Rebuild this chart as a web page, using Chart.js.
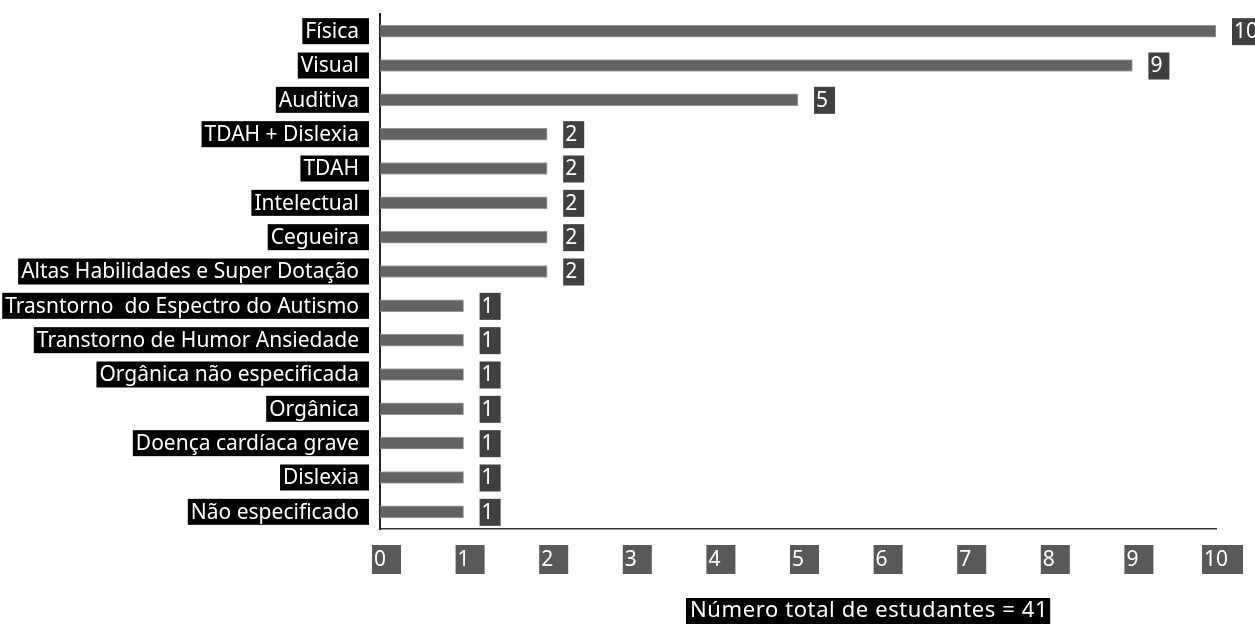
<!DOCTYPE html>
<html>
<head>
<meta charset="utf-8">
<script src="https://cdn.jsdelivr.net/npm/chart.js@4.4.1/dist/chart.umd.min.js"></script>
<style>
  html, body { margin: 0; padding: 0; background: #fff; }
  #wrap { width: 1255px; height: 624px; position: relative; }
</style>
</head>
<body>
<div id="wrap"><canvas id="barChart"></canvas></div>
<script>
// categories top to bottom, as in the picture
var categorias = ["Física", "Visual", "Auditiva", "TDAH + Dislexia", "TDAH", "Intelectual", "Cegueira",
  "Altas Habilidades e Super Dotação", "Trasntorno  do Espectro do Autismo", "Transtorno de Humor Ansiedade",
  "Orgânica não especificada", "Orgânica", "Doença cardíaca grave", "Dislexia", "Não especificado"];
var estudantes = [10, 9, 5, 2, 2, 2, 2, 2, 1, 1, 1, 1, 1, 1, 1];
var xTicks = [0, 1, 2, 3, 4, 5, 6, 7, 8, 9, 10];
var titulo = "Número total de estudantes = 41";

var FONT = '"Noto Sans", "Open Sans", sans-serif';

// labels with boxes behind them, drawn after the chart
var boxLabels = {
  id: 'boxLabels',
  afterDraw: function(chart) {
    var ctx = chart.ctx;
    var xs = chart.scales.x, ys = chart.scales.y;
    var left = chart.chartArea.left;
    ctx.save();
    ctx.textBaseline = 'middle';
    ctx.font = '21px ' + FONT;

    // category names, black box
    for (var i = 0; i < categorias.length; i++) {
      var y = ys.getPixelForValue(i);
      var tw = ctx.measureText(categorias[i]).width;
      var tx = left - 21;
      ctx.fillStyle = '#000';
      ctx.fillRect(tx - tw - 3, y - 13, tw + 13, 26);
      ctx.fillStyle = '#fff';
      ctx.textAlign = 'right';
      ctx.fillText(categorias[i], tx, y + 1);
    }

    // values at the end of each bar
    for (var i = 0; i < estudantes.length; i++) {
      var y = ys.getPixelForValue(i);
      var xe = xs.getPixelForValue(estudantes[i]);
      var txt = String(estudantes[i]);
      var tw = ctx.measureText(txt).width;
      ctx.fillStyle = '#404040';
      ctx.fillRect(xe + 16, y - 13, tw + 9, 27);
      ctx.fillStyle = '#fff';
      ctx.textAlign = 'left';
      ctx.fillText(txt, xe + 18, y + 1);
    }

    // x tick labels, grey box
    for (var j = 0; j < xTicks.length; j++) {
      var x = xs.getPixelForValue(xTicks[j]);
      var txt = String(xTicks[j]);
      var tw = ctx.measureText(txt).width;
      ctx.fillStyle = '#595959';
      ctx.fillRect(x - tw / 2 - 2, 545, tw + 17, 29);
      ctx.fillStyle = '#fff';
      ctx.textAlign = 'center';
      ctx.fillText(txt, x, 560);
    }

    // total at the bottom
    ctx.font = '22px ' + FONT;
    ctx.letterSpacing = '0.6px';
    var tw = ctx.measureText(titulo).width;
    ctx.fillStyle = '#000';
    ctx.fillRect(686, 598, tw + 6, 26);
    ctx.fillStyle = '#fff';
    ctx.textAlign = 'left';
    ctx.fillText(titulo, 690, 611);
    ctx.restore();
  }
};

new Chart(document.getElementById('barChart'), {
  type: 'bar',
  data: {
    labels: categorias,
    datasets: [{
      data: estudantes,
      backgroundColor: '#636363',
      borderColor: '#a8a8a8',
      borderWidth: 1,
      borderSkipped: 'left',
      barThickness: 12
    }]
  },
  options: {
    indexAxis: 'y',
    responsive: true,
    maintainAspectRatio: false,
    animation: false,
    layout: { padding: { top: 14, right: 39, left: 0, bottom: 0 } },
    plugins: { legend: { display: false }, tooltip: { enabled: false } },
    scales: {
      x: {
        min: 0, max: 10,
        grid: { display: false },
        border: { display: true, color: '#333', width: 1.5 },
        ticks: { display: false, stepSize: 1 },
        afterFit: function(s) { s.height = 95; }
      },
      y: {
        grid: { display: false },
        border: { display: true, color: '#222', width: 2 },
        ticks: { display: false },
        afterFit: function(s) { s.width = 380; }
      }
    }
  },
  plugins: [boxLabels]
});
</script>
</body>
</html>
